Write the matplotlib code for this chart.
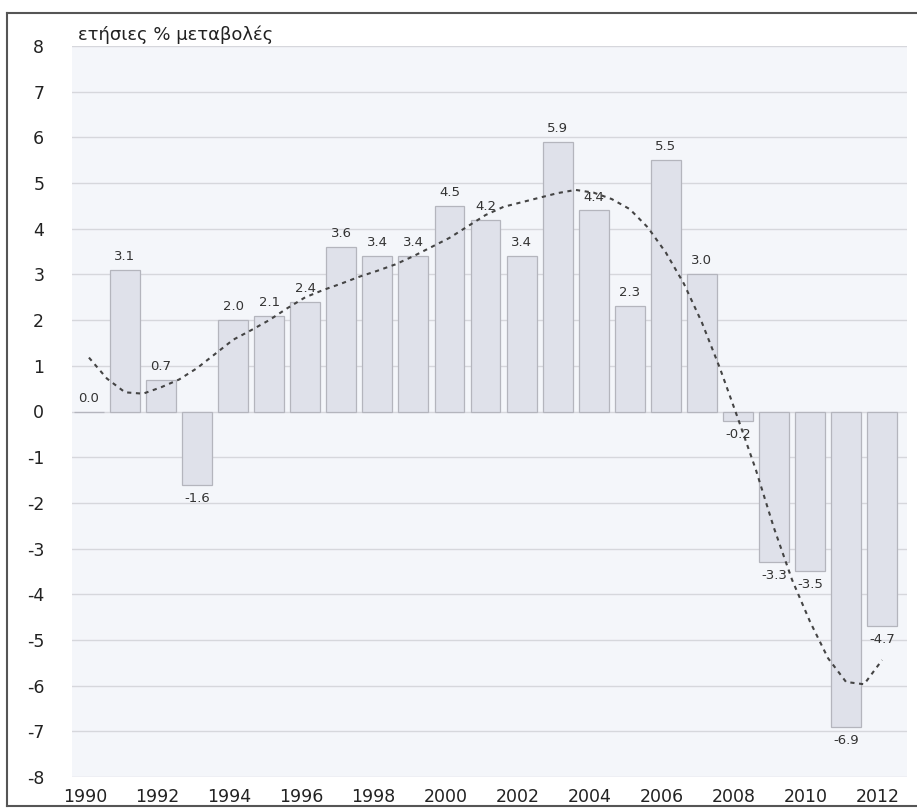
import matplotlib
matplotlib.use("Agg")
import matplotlib.pyplot as plt
import matplotlib.transforms as mtransforms
from matplotlib.lines import Line2D

years = list(range(1990, 2013))
values = [0.0, 3.1, 0.7, -1.6, 2.0, 2.1, 2.4, 3.6, 3.4, 3.4, 4.5, 4.2, 3.4,
          5.9, 4.4, 2.3, 5.5, 3.0, -0.2, -3.3, -3.5, -6.9, -4.7]
labels = ["0.0", "3.1", "0.7", "-1.6", "2.0", "2.1", "2.4", "3.6", "3.4", "3.4",
          "4.5", "4.2", "3.4", "5.9", "4.4", "2.3", "5.5", "3.0", "-0.2", "-3.3",
          "-3.5", "-6.9", "-4.7"]

# dashed trend curve at half-year steps
trend_x = [1990.0, 1990.5, 1991.0, 1991.5, 1992.0, 1992.5, 1993.0, 1993.5,
           1994.0, 1994.5, 1995.0, 1995.5, 1996.0, 1996.5, 1997.0, 1997.5,
           1998.0, 1998.5, 1999.0, 1999.5, 2000.0, 2000.5, 2001.0, 2001.5,
           2002.0, 2002.5, 2003.0, 2003.5, 2004.0, 2004.5, 2005.0, 2005.5,
           2006.0, 2006.5, 2007.0, 2007.5, 2008.0, 2008.5, 2009.0, 2009.5,
           2010.0, 2010.5, 2011.0, 2011.5, 2012.0]
trend_y = [1.18, 0.72, 0.42, 0.39, 0.53, 0.70, 0.95, 1.26,
           1.57, 1.78, 2.00, 2.26, 2.50, 2.66, 2.80, 2.95,
           3.08, 3.22, 3.40, 3.60, 3.80, 4.05, 4.30, 4.48,
           4.58, 4.68, 4.78, 4.85, 4.79, 4.65, 4.43, 4.03,
           3.48, 2.80, 1.95, 0.95, -0.15, -1.28, -2.55, -3.68,
           -4.60, -5.40, -5.92, -5.97, -5.44]

y_ticks = list(range(-8, 9))
x_ticks = list(range(1990, 2013, 2))
title = "ετήσιες % μεταβολές"

W, H = 917, 810
fig = plt.figure(figsize=(W / 100, H / 100), dpi=100)
fig.patch.set_facecolor("white")

left, right, top, bottom = 72, 907, 46, 777
ax = fig.add_axes([left / W, 1 - bottom / H, (right - left) / W, (bottom - top) / H])
ax.set_facecolor("#f4f6fa")

ax.set_xlim(1989.53, 2012.69)
ax.set_ylim(-8, 8)

for s in ax.spines.values():
    s.set_visible(False)

ax.set_yticks(y_ticks)
ax.set_yticklabels([str(v) for v in y_ticks])
ax.set_xticks(x_ticks)
ax.set_xticklabels([str(v) for v in x_ticks])
ax.tick_params(axis="both", length=0, labelsize=12.5, labelcolor="#222222")
ax.tick_params(axis="y", pad=20)
ax.tick_params(axis="x", pad=8)
offset = mtransforms.ScaledTranslation(-4 / 100, 0, fig.dpi_scale_trans)
for lab in ax.get_xticklabels():
    lab.set_transform(lab.get_transform() + offset)

ax.yaxis.grid(True, color="#d6d7dc", linewidth=1.0)
ax.set_axisbelow(True)

bars = ax.bar(years, values, width=0.83, color="#dfe1ea", edgecolor="#b4b5bd",
              linewidth=0.9, zorder=2)

for x, v, t in zip(years, values, labels):
    if v >= 0:
        ax.annotate(t, (x, v), xytext=(0, 5), textcoords="offset points",
                    ha="center", va="bottom", fontsize=9.5, color="#333333", zorder=4)
    else:
        ax.annotate(t, (x, v), xytext=(0, -5), textcoords="offset points",
                    ha="center", va="top", fontsize=9.5, color="#333333", zorder=4)

ax.plot(trend_x, trend_y, color="#444444", linewidth=1.5,
        linestyle=(0, (2, 2.2)), zorder=3)

fig.text(78 / W, 1 - 35 / H, title, fontsize=13, color="#222222",
         ha="left", va="center")

# outer frame
fc = "#555555"
fig.add_artist(Line2D([7 / W, 7 / W], [1 - 13 / H, 1 - 806 / H], color=fc, lw=1.5,
                      transform=fig.transFigure))
fig.add_artist(Line2D([7 / W, 1.0], [1 - 13 / H, 1 - 13 / H], color=fc, lw=1.5,
                      transform=fig.transFigure))
fig.add_artist(Line2D([7 / W, 1.0], [1 - 806 / H, 1 - 806 / H], color=fc, lw=1.5,
                      transform=fig.transFigure))

fig.savefig("out.png", dpi=100)
